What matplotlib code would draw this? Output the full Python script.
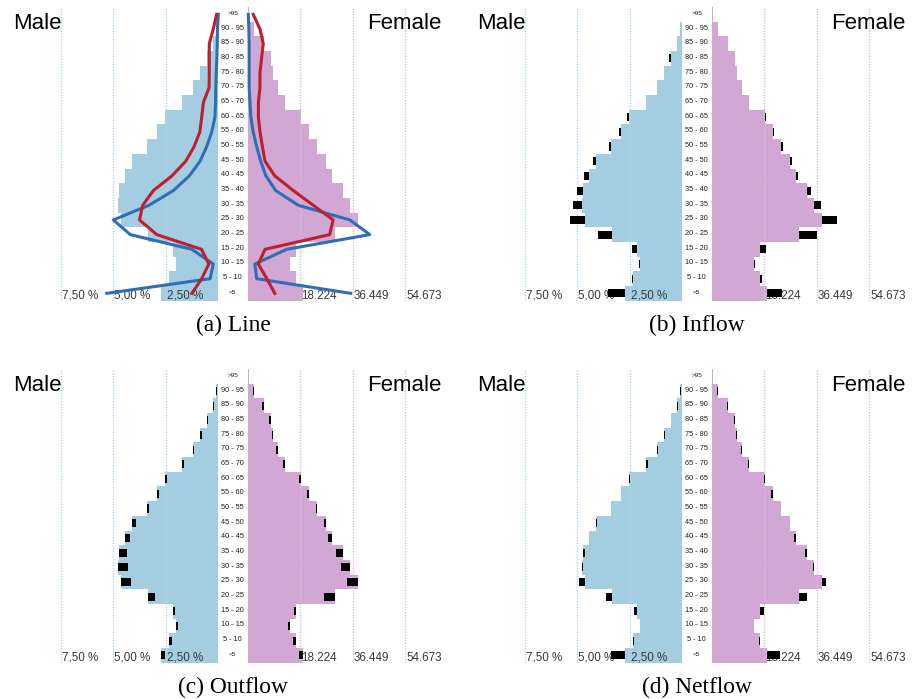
import matplotlib
matplotlib.use("Agg")
import matplotlib.pyplot as plt
from matplotlib.transforms import blended_transform_factory
import numpy as np

# ---------------------------------------------------------------- data
ages = [">95", "90 - 95", "85 - 90", "80 - 85", "75 - 80", "70 - 75", "65 - 70",
        "60 - 65", "55 - 60", "50 - 55", "45 - 50", "40 - 45", "35 - 40",
        "30 - 35", "25 - 30", "20 - 25", "15 - 20", "10 - 15", "5 - 10", "<5"]

# population share of men (%) and number of women (thousands)
male_pct = [0.02, 0.11, 0.26, 0.56, 0.87, 1.22, 1.73, 2.56, 2.92, 3.40,
            4.10, 4.43, 4.71, 4.76, 4.63, 3.35, 2.18, 2.02, 2.33, 2.75]
female_k = [0.59, 2.3, 5.8, 8.1, 8.9, 10.4, 12.95, 18.5, 21.1, 24.1,
            27.2, 29.3, 33.0, 35.5, 38.2, 30.3, 16.8, 14.5, 16.8, 19.1]

# line overlays (panel a)
male_blue = [0.0, 0.04, 0.05, 0.07, 0.10, 0.12, 0.13, 0.16, 0.31, 0.55,
             0.87, 1.38, 2.14, 3.30, 5.00, 4.19, 1.26, 0.24, 0.39, 5.31]
male_red = [0.08, 0.24, 0.43, 0.43, 0.43, 0.44, 0.71, 0.79, 0.88, 1.15,
            1.55, 2.21, 3.09, 3.60, 3.75, 2.93, 0.80, 0.45, 0.79, 1.26]
female_blue = [0.2, 0.4, 0.5, 0.5, 0.5, 0.5, 0.8, 1.1, 1.9, 3.1,
               4.5, 6.3, 9.7, 17.5, 35.4, 42.3, 13.5, 2.5, 3.1, 35.7]
female_red = [1.9, 4.25, 5.4, 4.8, 4.25, 4.25, 3.7, 3.7, 4.25, 5.1,
              6.0, 9.4, 15.8, 22.7, 29.6, 28.4, 6.0, 3.7, 6.6, 9.4]

# migration flows
male_in = [0, 0, 0, 0.05, 0, 0, 0, 0.05, 0.08, 0.10,
           0.13, 0.24, 0.32, 0.46, 0.73, 0.65, 0.21, 0.05, 0.06, 0.79]
female_in = [0, 0, 0, 0, 0, 0, 0, 0.46, 0.35, 0.46,
             0.69, 0.69, 1.38, 2.42, 5.3, 6.3, 1.96, 0.46, 0.58, 5.3]
male_out = [0, 0.05, 0.05, 0.06, 0.08, 0.05, 0.10, 0.10, 0.08, 0.10,
            0.19, 0.22, 0.38, 0.48, 0.46, 0.32, 0.10, 0.08, 0.14, 0.19]
female_out = [0, 0.46, 0.69, 0.69, 0.46, 0.46, 0.58, 0.58, 0.58, 0.58,
              0.69, 1.5, 2.42, 3.0, 3.7, 3.8, 0.8, 0.46, 1.15, 1.38]
male_net = [0, -0.03, -0.04, -0.03, -0.04, -0.05, -0.10, -0.05, -0.02, 0,
            -0.06, 0, -0.06, -0.03, 0.29, 0.29, 0.10, 0, -0.05, 0.63]
female_net = [0, -0.4, -0.58, -0.5, -0.4, -0.4, -0.5, -0.4, -0.4, 0,
              0, -0.8, -0.8, -0.4, 1.5, 2.65, 1.27, 0, -0.46, 4.4]

male_ticks = [2.5, 5.0, 7.5]
male_tick_labels = ["2,50 %", "5,00 %", "7,50 %"]
female_ticks = [18.224, 36.449, 54.673]
female_tick_labels = ["18.224", "36.449", "54.673"]

panels = [("line", "(a) Line"), ("inflow", "(b) Inflow"),
          ("outflow", "(c) Outflow"), ("netflow", "(d) Netflow")]

# ---------------------------------------------------------------- style
MALE_C = "#a5cde2"
FEMALE_C = "#d0a8d3"
MALE_GRID = "#b3d6ea"
FEMALE_GRID = "#dcbde0"
RED = "#be1e2d"
BLUE = "#2f6db5"
SANS = "Liberation Sans"
SERIF = "Liberation Serif"

W, H = 913, 699
fig = plt.figure(figsize=(W / 100, H / 100), dpi=100)

MALE_ZERO = 218.3
FEMALE_ZERO = 247.7
RIGHT = 455.0
TOP, BOTTOM = 7.0, 300.7
PX_PER_PCT = 21.0
PX_PER_K = 2.886
OFFSETS = [(0, 0), (464, 0), (0, 362), (464, 362)]

n = len(ages)
y = np.arange(n)[::-1]
row_h = (BOTTOM - TOP) / n


def px_axes(x0, x1, y0, y1):
    ax = fig.add_axes([x0 / W, 1 - y1 / H, (x1 - x0) / W, (y1 - y0) / H])
    ax.set_axis_off()
    ax.set_ylim(-0.5, n - 0.5)
    return ax


def draw_panel(dx, dy, mode, caption):
    axm = px_axes(dx, dx + MALE_ZERO, dy + TOP, dy + BOTTOM)
    axm.set_xlim(MALE_ZERO / PX_PER_PCT, 0)
    axf = px_axes(dx + FEMALE_ZERO, dx + RIGHT, dy + TOP, dy + BOTTOM)
    axf.set_xlim(0, (RIGHT - FEMALE_ZERO) / PX_PER_K)

    mp = np.array(male_pct)
    fk = np.array(female_k)
    axm.barh(y, mp, height=1.0, color=MALE_C, lw=0, zorder=1)
    axf.barh(y, fk, height=1.0, color=FEMALE_C, lw=0, zorder=1)

    tm = blended_transform_factory(axm.transData, axm.transAxes)
    tf = blended_transform_factory(axf.transData, axf.transAxes)
    for v, lab in zip(male_ticks, male_tick_labels):
        axm.axvline(v, color=MALE_GRID, lw=1.0, ls=(0, (1, 1)), zorder=1.5)
        axm.text(v - 0.05, 0.017, lab, transform=tm, ha="left", va="center",
                 fontsize=8.4, family=SANS, color="#3a3a3a", zorder=2)
    for v, lab in zip(female_ticks, female_tick_labels):
        axf.axvline(v, color=FEMALE_GRID, lw=1.0, ls=(0, (1, 1)), zorder=1.5)
        axf.text(v + 0.35, 0.017, lab, transform=tf, ha="left", va="center",
                 fontsize=8.4, family=SANS, color="#3a3a3a", zorder=2)

    bh = 0.55
    if mode == "line":
        for ax, vals, col in ((axm, male_blue, BLUE), (axm, male_red, RED),
                              (axf, female_blue, BLUE), (axf, female_red, RED)):
            ax.plot(vals, y, color=col, lw=2.2, zorder=4, clip_on=False)
    elif mode == "inflow":
        axm.barh(y, male_in, left=mp, height=bh, color="black", lw=0, zorder=3)
        axf.barh(y, female_in, left=fk, height=bh, color="black", lw=0, zorder=3)
    elif mode == "outflow":
        mo = np.array(male_out)
        fo = np.array(female_out)
        axm.barh(y, mo, left=mp - mo, height=bh, color="black", lw=0, zorder=3)
        axf.barh(y, fo, left=fk - fo, height=bh, color="black", lw=0, zorder=3)
    else:
        axm.barh(y, male_net, left=mp, height=bh, color="black", lw=0, zorder=3)
        axf.barh(y, female_net, left=fk, height=bh, color="black", lw=0, zorder=3)

    # age-group labels in the central gap
    for i, lab in enumerate(ages):
        yc = dy + TOP + (i + 0.5) * row_h - 1.0
        fs = 4.6 if lab in (">95", "<5") else 5.3
        fig.text((dx + 232.8) / W, 1 - yc / H, lab, ha="center", va="center",
                 fontsize=fs, family=SANS, color="#1e1e1e")

    fig.text((dx + 13.3) / W, 1 - (dy + 29.3) / H, "Male", ha="left",
             va="baseline", fontsize=16, family=SANS, color="black")
    fig.text((dx + 441.7) / W, 1 - (dy + 29.3) / H, "Female", ha="right",
             va="baseline", fontsize=16, family=SANS, color="black")
    fig.text((dx + 233.2) / W, 1 - (dy + 331.3) / H, caption, ha="center",
             va="baseline", fontsize=16.8, family=SERIF, color="black")


for (mode, caption), (dx, dy) in zip(panels, OFFSETS):
    draw_panel(dx, dy, mode, caption)

fig.savefig("out.png", dpi=100, facecolor="white")
